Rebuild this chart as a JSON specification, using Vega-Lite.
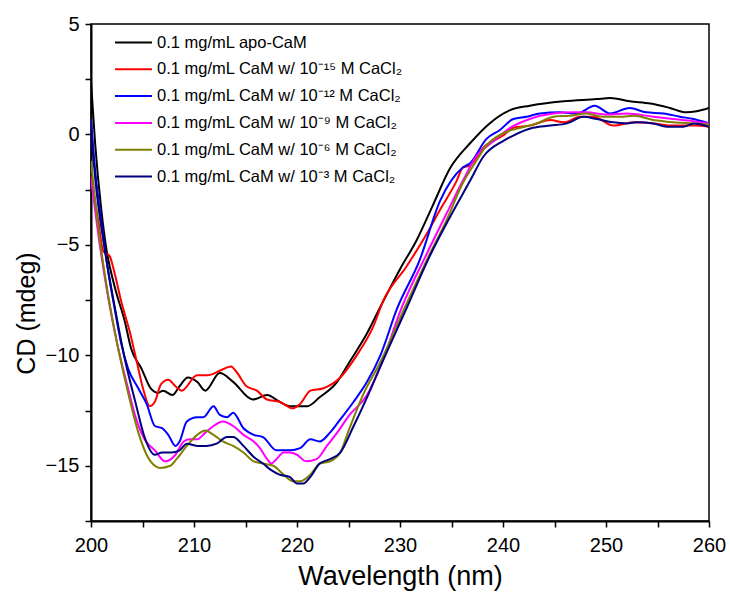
{
  "$schema": "https://vega.github.io/schema/vega-lite/v6.json",
  "width": 618,
  "height": 497,
  "autosize": {"type": "none"},
  "padding": {"left": 91, "top": 24, "right": 21, "bottom": 83},
  "background": "white",
  "config": {
    "view": {"stroke": "#000", "strokeWidth": 1.5},
    "font": "Liberation Sans",
    "axis": {"grid": false, "domainColor": "#000", "domainWidth": 2, "tickColor": "#000", "tickWidth": 1.5, "tickSize": 6, "labelColor": "#000", "titleColor": "#000", "titleFontWeight": "normal", "labelFont": "Liberation Sans", "titleFont": "Liberation Sans"}
  },
  "data": {"values": [
    {"s":"a","w":200.0,"v":2.4},{"s":"a","w":200.4,"v":-0.4},{"s":"a","w":201.0,"v":-3.4},{"s":"a","w":201.5,"v":-5.2},{"s":"a","w":202.3,"v":-6.9},{"s":"a","w":203.3,"v":-8.5},{"s":"a","w":203.9,"v":-9.7},{"s":"a","w":204.9,"v":-10.6},{"s":"a","w":205.8,"v":-11.5},{"s":"a","w":206.5,"v":-11.7},{"s":"a","w":207.0,"v":-11.6},{"s":"a","w":207.9,"v":-11.8},{"s":"a","w":208.6,"v":-11.4},{"s":"a","w":209.4,"v":-11.0},{"s":"a","w":210.3,"v":-11.2},{"s":"a","w":211.1,"v":-11.6},{"s":"a","w":212.5,"v":-10.8},{"s":"a","w":213.8,"v":-11.2},{"s":"a","w":215.7,"v":-12.0},{"s":"a","w":217.1,"v":-11.8},{"s":"a","w":218.3,"v":-12.1},{"s":"a","w":219.3,"v":-12.3},{"s":"a","w":221.0,"v":-12.3},{"s":"a","w":222.2,"v":-11.9},{"s":"a","w":223.9,"v":-11.2},{"s":"a","w":225.1,"v":-10.3},{"s":"a","w":226.8,"v":-9.0},{"s":"a","w":228.1,"v":-7.8},{"s":"a","w":230.0,"v":-6.1},{"s":"a","w":231.6,"v":-4.8},{"s":"a","w":233.1,"v":-3.3},{"s":"a","w":234.9,"v":-1.5},{"s":"a","w":236.8,"v":-0.4},{"s":"a","w":238.7,"v":0.5},{"s":"a","w":240.7,"v":1.1},{"s":"a","w":242.6,"v":1.3},{"s":"a","w":245.9,"v":1.5},{"s":"a","w":249.1,"v":1.6},{"s":"a","w":250.4,"v":1.65},{"s":"a","w":252.3,"v":1.5},{"s":"a","w":254.3,"v":1.4},{"s":"a","w":256.2,"v":1.2},{"s":"a","w":257.8,"v":1.0},{"s":"a","w":258.8,"v":1.05},{"s":"a","w":260.0,"v":1.2},

    {"s":"b","w":200.0,"v":-1.9},{"s":"b","w":200.7,"v":-3.9},{"s":"b","w":201.2,"v":-5.3},{"s":"b","w":201.8,"v":-5.5},{"s":"b","w":202.3,"v":-6.3},{"s":"b","w":202.9,"v":-7.5},{"s":"b","w":203.8,"v":-9.0},{"s":"b","w":204.4,"v":-10.2},{"s":"b","w":205.05,"v":-11.5},{"s":"b","w":205.7,"v":-12.3},{"s":"b","w":206.2,"v":-12.1},{"s":"b","w":206.8,"v":-11.3},{"s":"b","w":207.5,"v":-11.1},{"s":"b","w":208.2,"v":-11.4},{"s":"b","w":208.8,"v":-11.6},{"s":"b","w":210.3,"v":-10.9},{"s":"b","w":211.3,"v":-10.9},{"s":"b","w":212.5,"v":-10.7},{"s":"b","w":213.6,"v":-10.5},{"s":"b","w":214.2,"v":-10.8},{"s":"b","w":215.1,"v":-11.4},{"s":"b","w":216.1,"v":-11.6},{"s":"b","w":217.1,"v":-12.0},{"s":"b","w":218.3,"v":-12.1},{"s":"b","w":219.6,"v":-12.4},{"s":"b","w":220.3,"v":-12.2},{"s":"b","w":221.3,"v":-11.6},{"s":"b","w":222.5,"v":-11.5},{"s":"b","w":224.2,"v":-11.0},{"s":"b","w":225.8,"v":-10.0},{"s":"b","w":227.4,"v":-8.7},{"s":"b","w":228.4,"v":-7.5},{"s":"b","w":230.6,"v":-6.0},{"s":"b","w":232.6,"v":-4.5},{"s":"b","w":233.9,"v":-3.4},{"s":"b","w":235.5,"v":-2.1},{"s":"b","w":236.1,"v":-1.5},{"s":"b","w":236.8,"v":-1.4},{"s":"b","w":238.1,"v":-0.6},{"s":"b","w":240.0,"v":-0.05},{"s":"b","w":241.0,"v":0.3},{"s":"b","w":242.6,"v":0.4},{"s":"b","w":244.6,"v":0.65},{"s":"b","w":245.9,"v":0.55},{"s":"b","w":247.5,"v":0.8},{"s":"b","w":248.8,"v":0.8},{"s":"b","w":250.7,"v":0.4},{"s":"b","w":252.7,"v":0.55},{"s":"b","w":254.6,"v":0.5},{"s":"b","w":256.5,"v":0.4},{"s":"b","w":258.5,"v":0.4},{"s":"b","w":260.0,"v":0.35},

    {"s":"c","w":200.0,"v":0.7},{"s":"c","w":200.4,"v":-1.6},{"s":"c","w":201.0,"v":-3.9},{"s":"c","w":201.6,"v":-6.0},{"s":"c","w":202.3,"v":-7.9},{"s":"c","w":202.9,"v":-9.4},{"s":"c","w":203.6,"v":-10.6},{"s":"c","w":204.6,"v":-11.5},{"s":"c","w":205.4,"v":-12.2},{"s":"c","w":206.2,"v":-13.2},{"s":"c","w":206.9,"v":-13.3},{"s":"c","w":207.5,"v":-13.6},{"s":"c","w":208.2,"v":-14.1},{"s":"c","w":208.6,"v":-13.9},{"s":"c","w":209.3,"v":-13.0},{"s":"c","w":210.3,"v":-12.8},{"s":"c","w":210.9,"v":-12.8},{"s":"c","w":211.9,"v":-12.3},{"s":"c","w":212.5,"v":-12.7},{"s":"c","w":213.2,"v":-12.8},{"s":"c","w":213.8,"v":-12.6},{"s":"c","w":214.8,"v":-13.3},{"s":"c","w":215.8,"v":-13.6},{"s":"c","w":216.7,"v":-13.7},{"s":"c","w":218.0,"v":-14.3},{"s":"c","w":219.3,"v":-14.3},{"s":"c","w":220.3,"v":-14.2},{"s":"c","w":221.3,"v":-13.8},{"s":"c","w":222.2,"v":-13.9},{"s":"c","w":223.2,"v":-13.5},{"s":"c","w":224.2,"v":-12.9},{"s":"c","w":225.5,"v":-12.1},{"s":"c","w":226.8,"v":-11.2},{"s":"c","w":228.1,"v":-10.0},{"s":"c","w":229.7,"v":-7.9},{"s":"c","w":231.9,"v":-5.7},{"s":"c","w":233.9,"v":-3.0},{"s":"c","w":236.1,"v":-1.5},{"s":"c","w":236.8,"v":-1.3},{"s":"c","w":238.4,"v":-0.2},{"s":"c","w":239.7,"v":0.2},{"s":"c","w":241.0,"v":0.7},{"s":"c","w":242.3,"v":0.8},{"s":"c","w":243.6,"v":0.95},{"s":"c","w":245.5,"v":1.0},{"s":"c","w":247.2,"v":0.95},{"s":"c","w":248.9,"v":1.3},{"s":"c","w":250.4,"v":0.95},{"s":"c","w":252.3,"v":1.2},{"s":"c","w":253.9,"v":1.0},{"s":"c","w":255.6,"v":0.95},{"s":"c","w":257.2,"v":0.8},{"s":"c","w":258.5,"v":0.7},{"s":"c","w":260.0,"v":0.5},

    {"s":"d","w":200.0,"v":-2.0},{"s":"d","w":200.7,"v":-4.5},{"s":"d","w":201.6,"v":-7.2},{"s":"d","w":202.6,"v":-9.6},{"s":"d","w":203.6,"v":-11.5},{"s":"d","w":204.4,"v":-12.9},{"s":"d","w":205.2,"v":-13.8},{"s":"d","w":206.2,"v":-14.3},{"s":"d","w":207.2,"v":-14.8},{"s":"d","w":208.2,"v":-14.5},{"s":"d","w":209.0,"v":-13.9},{"s":"d","w":209.6,"v":-13.8},{"s":"d","w":210.3,"v":-13.8},{"s":"d","w":211.1,"v":-13.5},{"s":"d","w":211.9,"v":-13.2},{"s":"d","w":212.8,"v":-13.0},{"s":"d","w":213.8,"v":-13.2},{"s":"d","w":214.8,"v":-13.6},{"s":"d","w":215.8,"v":-13.9},{"s":"d","w":216.4,"v":-14.2},{"s":"d","w":217.1,"v":-14.7},{"s":"d","w":217.5,"v":-14.9},{"s":"d","w":218.0,"v":-14.7},{"s":"d","w":218.7,"v":-14.4},{"s":"d","w":219.3,"v":-14.4},{"s":"d","w":220.0,"v":-14.5},{"s":"d","w":220.9,"v":-14.8},{"s":"d","w":221.9,"v":-14.7},{"s":"d","w":222.9,"v":-14.1},{"s":"d","w":223.9,"v":-13.5},{"s":"d","w":225.1,"v":-12.7},{"s":"d","w":226.8,"v":-11.8},{"s":"d","w":228.1,"v":-10.5},{"s":"d","w":230.2,"v":-7.8},{"s":"d","w":232.6,"v":-5.4},{"s":"d","w":234.5,"v":-3.6},{"s":"d","w":236.1,"v":-2.1},{"s":"d","w":237.4,"v":-1.0},{"s":"d","w":239.1,"v":-0.3},{"s":"d","w":240.7,"v":0.3},{"s":"d","w":242.6,"v":0.7},{"s":"d","w":244.9,"v":0.95},{"s":"d","w":246.8,"v":1.0},{"s":"d","w":248.1,"v":1.0},{"s":"d","w":250.1,"v":0.9},{"s":"d","w":252.0,"v":0.95},{"s":"d","w":254.6,"v":0.8},{"s":"d","w":256.5,"v":0.7},{"s":"d","w":258.5,"v":0.6},{"s":"d","w":260.0,"v":0.5},

    {"s":"e","w":200.0,"v":-1.2},{"s":"e","w":200.7,"v":-4.2},{"s":"e","w":201.6,"v":-7.1},{"s":"e","w":202.6,"v":-9.6},{"s":"e","w":203.6,"v":-11.7},{"s":"e","w":204.6,"v":-13.5},{"s":"e","w":205.4,"v":-14.5},{"s":"e","w":206.2,"v":-15.0},{"s":"e","w":206.7,"v":-15.1},{"s":"e","w":207.7,"v":-15.0},{"s":"e","w":208.3,"v":-14.7},{"s":"e","w":209.3,"v":-14.1},{"s":"e","w":210.3,"v":-13.6},{"s":"e","w":211.1,"v":-13.4},{"s":"e","w":211.9,"v":-13.6},{"s":"e","w":212.8,"v":-13.9},{"s":"e","w":213.8,"v":-14.1},{"s":"e","w":214.8,"v":-14.4},{"s":"e","w":215.8,"v":-14.8},{"s":"e","w":216.7,"v":-14.9},{"s":"e","w":217.7,"v":-15.0},{"s":"e","w":218.7,"v":-15.4},{"s":"e","w":219.6,"v":-15.7},{"s":"e","w":220.3,"v":-15.7},{"s":"e","w":221.3,"v":-15.4},{"s":"e","w":222.2,"v":-14.9},{"s":"e","w":223.2,"v":-14.8},{"s":"e","w":224.2,"v":-14.4},{"s":"e","w":225.1,"v":-13.3},{"s":"e","w":226.4,"v":-11.8},{"s":"e","w":228.1,"v":-10.3},{"s":"e","w":230.5,"v":-7.8},{"s":"e","w":232.9,"v":-5.4},{"s":"e","w":234.5,"v":-3.9},{"s":"e","w":236.1,"v":-2.2},{"s":"e","w":237.4,"v":-1.2},{"s":"e","w":238.4,"v":-0.5},{"s":"e","w":240.0,"v":0.05},{"s":"e","w":241.7,"v":0.3},{"s":"e","w":243.3,"v":0.5},{"s":"e","w":244.9,"v":0.8},{"s":"e","w":246.5,"v":0.85},{"s":"e","w":248.1,"v":0.95},{"s":"e","w":249.7,"v":0.8},{"s":"e","w":251.4,"v":0.8},{"s":"e","w":252.7,"v":0.85},{"s":"e","w":254.6,"v":0.65},{"s":"e","w":256.5,"v":0.55},{"s":"e","w":258.5,"v":0.5},{"s":"e","w":260.0,"v":0.45},

    {"s":"f","w":200.0,"v":0.2},{"s":"f","w":200.5,"v":-2.4},{"s":"f","w":201.3,"v":-5.1},{"s":"f","w":202.3,"v":-7.8},{"s":"f","w":203.3,"v":-10.2},{"s":"f","w":204.3,"v":-12.1},{"s":"f","w":205.2,"v":-13.7},{"s":"f","w":206.2,"v":-14.5},{"s":"f","w":206.9,"v":-14.4},{"s":"f","w":207.8,"v":-14.4},{"s":"f","w":208.6,"v":-14.3},{"s":"f","w":209.3,"v":-14.0},{"s":"f","w":210.3,"v":-14.1},{"s":"f","w":211.2,"v":-14.1},{"s":"f","w":212.2,"v":-14.0},{"s":"f","w":213.2,"v":-13.7},{"s":"f","w":213.8,"v":-13.7},{"s":"f","w":214.8,"v":-14.1},{"s":"f","w":215.8,"v":-14.6},{"s":"f","w":216.7,"v":-14.9},{"s":"f","w":217.5,"v":-15.2},{"s":"f","w":218.3,"v":-15.4},{"s":"f","w":219.3,"v":-15.5},{"s":"f","w":220.0,"v":-15.8},{"s":"f","w":220.6,"v":-15.8},{"s":"f","w":221.3,"v":-15.5},{"s":"f","w":222.2,"v":-14.9},{"s":"f","w":223.2,"v":-14.7},{"s":"f","w":224.2,"v":-14.4},{"s":"f","w":225.5,"v":-13.2},{"s":"f","w":226.8,"v":-11.9},{"s":"f","w":228.1,"v":-10.5},{"s":"f","w":230.7,"v":-7.8},{"s":"f","w":232.9,"v":-5.5},{"s":"f","w":234.9,"v":-3.7},{"s":"f","w":236.8,"v":-2.1},{"s":"f","w":238.1,"v":-1.0},{"s":"f","w":240.0,"v":-0.3},{"s":"f","w":241.0,"v":-0.05},{"s":"f","w":242.9,"v":0.3},{"s":"f","w":244.6,"v":0.4},{"s":"f","w":246.2,"v":0.5},{"s":"f","w":247.8,"v":0.8},{"s":"f","w":249.1,"v":0.7},{"s":"f","w":250.7,"v":0.55},{"s":"f","w":252.0,"v":0.5},{"s":"f","w":253.0,"v":0.55},{"s":"f","w":254.6,"v":0.5},{"s":"f","w":255.9,"v":0.35},{"s":"f","w":257.5,"v":0.35},{"s":"f","w":258.5,"v":0.5},{"s":"f","w":260.0,"v":0.35}
  ]},
  "mark": {"type": "line", "interpolate": "monotone", "strokeWidth": 2, "clip": true},
  "encoding": {
    "x": {"field": "w", "type": "quantitative", "scale": {"domain": [200, 260], "nice": false, "zero": false},
      "axis": {"title": "Wavelength (nm)", "values": [200,205,210,215,220,225,230,235,240,245,250,255,260], "labelExpr": "datum.value % 10 === 0 ? datum.label : ''", "labelFontSize": 20, "titleFontSize": 27, "labelPadding": 8, "titlePadding": 8, "labelFlush": false}},
    "y": {"field": "v", "type": "quantitative", "scale": {"domain": [-17.5, 5], "nice": false, "zero": false},
      "axis": {"title": "CD (mdeg)", "values": [-17.5,-15,-12.5,-10,-7.5,-5,-2.5,0,2.5,5], "labelExpr": "datum.value % 5 === 0 ? datum.label : ''", "labelFontSize": 20, "titleFontSize": 25, "labelPadding": 6, "titlePadding": 6, "titleY": 289, "labelFlush": false}},
    "color": {"field": "s", "type": "nominal",
      "scale": {"domain": ["a","b","c","d","e","f"], "range": ["#000000","#ff0000","#0000ff","#ff00ff","#808000","#000080"]},
      "legend": {"title": null, "orient": "none", "legendX": 29, "legendY": 5, "symbolType": "M-1.5,0H1.5", "symbolSize": 608, "symbolStrokeWidth": 2, "symbolFillColor": "transparent", "labelFontSize": 16.5, "labelColor": "#000", "labelLimit": 500, "rowPadding": 4.8, "labelOffset": 10, "padding": 0,
        "labelExpr": "{'a':'0.1 mg/mL apo-CaM','b':'0.1 mg/mL CaM w/ 10⁻¹⁵ M CaCl₂','c':'0.1 mg/mL CaM w/ 10⁻¹² M CaCl₂','d':'0.1 mg/mL CaM w/ 10⁻⁹ M CaCl₂','e':'0.1 mg/mL CaM w/ 10⁻⁶ M CaCl₂','f':'0.1 mg/mL CaM w/ 10⁻³ M CaCl₂'}[datum.value]"}}
  }
}
